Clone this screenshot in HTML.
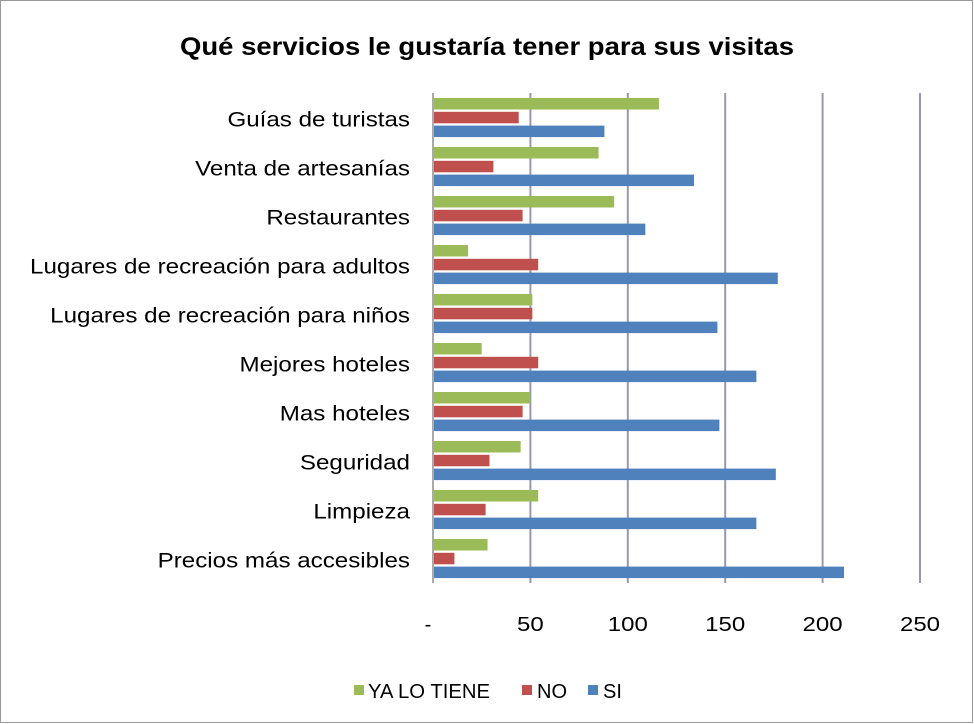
<!DOCTYPE html>
<html><head><meta charset="utf-8"><style>
html,body{margin:0;padding:0;background:#fff}
svg{display:block;font-family:"Liberation Sans",sans-serif}
</style></head><body>
<svg id="chart" width="974" height="724" viewBox="0 0 974 724">
<rect x="0.5" y="0.5" width="972" height="722" fill="#fff" stroke="#999"/>
<text x="487" y="55" text-anchor="middle" font-size="25" font-weight="bold" fill="#000" textLength="614" lengthAdjust="spacingAndGlyphs">Qué servicios le gustaría tener para sus visitas</text>
<g id="grid"></g><g id="bars"></g><g id="labels"></g><g id="ticks"></g>
<g>
<rect x="354" y="685" width="10" height="10" fill="#9bbb59"/>
<text x="368" y="698" font-size="20" textLength="122" lengthAdjust="spacingAndGlyphs">YA LO TIENE</text>
<rect x="522" y="685" width="10" height="10" fill="#c0504d"/>
<text x="537" y="698" font-size="20">NO</text>
<rect x="588" y="685" width="10" height="10" fill="#4f81bd"/>
<text x="603" y="698" font-size="20">SI</text>
</g>
</svg>
<script>
const categories=["Guías de turistas","Venta de artesanías","Restaurantes","Lugares de recreación para adultos","Lugares de recreación para niños","Mejores hoteles","Mas hoteles","Seguridad","Limpieza","Precios más accesibles"];
const yaLoTiene=[116,85,93,18,51,25,50,45,54,28];
const noVals=[44,31,46,54,51,54,46,29,27,11];
const siVals=[88,134,109,177,146,166,147,176,166,211];
const tickValues=[0,50,100,150,200,250];
const tickLabels=["-","50","100","150","200","250"];
const NS="http://www.w3.org/2000/svg";
const plotX0=433,plotX1=920,maxV=250,plotTop=93,plotBottom=583;
const xs=v=>plotX0+v/maxV*(plotX1-plotX0);
const band=(plotBottom-plotTop)/categories.length;
function mk(t,a,p){const e=document.createElementNS(NS,t);for(const k in a)e.setAttribute(k,a[k]);p.appendChild(e);return e;}
const grid=document.getElementById('grid'),bars=document.getElementById('bars'),labels=document.getElementById('labels'),ticks=document.getElementById('ticks');
tickValues.forEach((v,i)=>{
 const l=mk('line',{x1:xs(v),x2:xs(v),y1:plotTop,y2:plotBottom,stroke:i==0?'#aaa':'#9a98b0','stroke-width':2},grid);
 
 
 const t=mk('text',{x:xs(v)+(i==0?-5:0),y:631,'text-anchor':'middle','font-size':20},ticks);
 t.textContent=tickLabels[i];
 
 
 if(i>0){const w=t.getComputedTextLength();t.setAttribute('textLength',w*1.2);t.setAttribute('lengthAdjust','spacingAndGlyphs');}
});
const series=[[yaLoTiene,'#9bbb59','ya-lo-tiene'],[noVals,'#c0504d','no'],[siVals,'#4f81bd','si']];
categories.forEach((c,i)=>{
 const g0=plotTop+i*band+5;
 series.forEach((s,j)=>{
  const r=mk('rect',{x:plotX0+1,y:g0+j*13.8,width:xs(s[0][i])-plotX0-1,height:11.5,fill:s[1]},bars);
  
  
 });
 const t=mk('text',{x:410,y:plotTop+i*band+band/2+9,'text-anchor':'end','font-size':21},labels);
 t.textContent=c;
 
 
 const w=t.getComputedTextLength();
 t.setAttribute('textLength',w*1.15);
 t.setAttribute('lengthAdjust','spacingAndGlyphs');
});
</script>
</body></html>
